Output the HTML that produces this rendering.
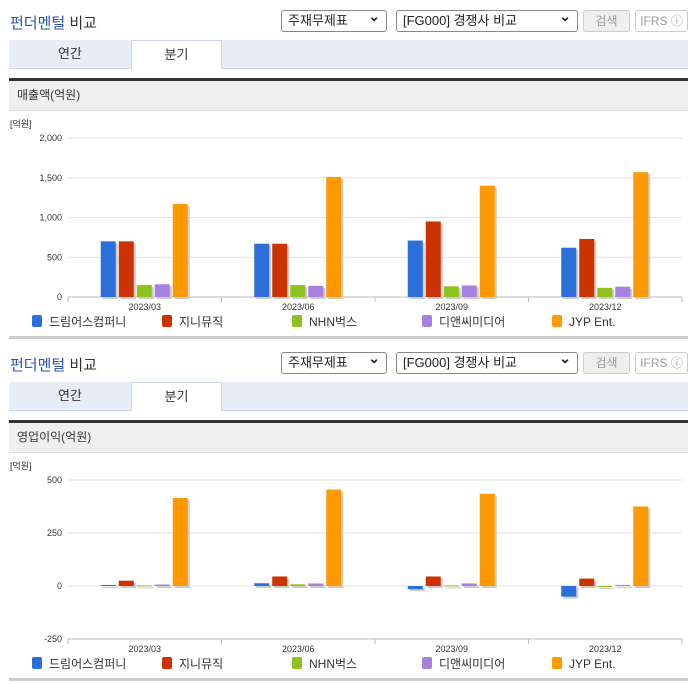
<!DOCTYPE html>
<html><head><meta charset="utf-8">
<style>
body{margin:0;width:696px;height:684px;background:#fff;font-family:"Liberation Sans","Noto Sans CJK KR",sans-serif;overflow:hidden;position:relative}
.sec{position:absolute;left:0;width:696px;height:342px}
.title{position:absolute;left:10px;top:12px;font-size:15px;font-weight:normal;color:#333}
.title b{color:#2a52b5;font-weight:normal}
.sel{position:absolute;top:10px;height:20px;border:1px solid #888;border-radius:3px;font-size:13px;line-height:20px;padding-left:6px;box-sizing:border-box;height:22px;color:#222;background:#fff}
.sel:after{content:"⌄";position:absolute;right:6px;top:-5px;font-size:14px;font-weight:bold}
.btn{position:absolute;top:10px;height:22px;border:1px solid #ccc;border-radius:3px;font-size:12px;line-height:20px;text-align:center;color:#999;box-sizing:border-box}
.tabs{position:absolute;left:9px;top:40px;width:679px;height:28px;background:#e6edf7;border-bottom:1px solid #cdd6e4}
.tab{position:absolute;top:0;height:28px;line-height:28px;text-align:center;font-size:13px;color:#333}
.bar2{position:absolute;left:9px;top:78px;width:679px;height:3px;background:#333}
.hdr{position:absolute;left:9px;top:81px;width:679px;height:29px;background:#efefef;border-bottom:1px solid #ddd;font-size:12px;line-height:29px;text-indent:8px;color:#333}
.bot{position:absolute;left:9px;top:336px;width:679px;height:3px;background:#ccc}
svg{position:absolute;left:0;top:110px}
</style></head><body>
<div class="sec" id="s1" style="top:0">
<div class="title"><b>펀더멘털</b> 비교</div>
<div class="sel" style="left:281px;width:106px">주재무제표</div>
<div class="sel" style="left:396px;width:182px">[FG000] 경쟁사 비교</div>
<div class="btn" style="left:583px;width:47px;background:#eee">검색</div>
<div class="btn" style="left:635px;width:53px">IFRS ⓘ</div>
<div class="tabs">
<div class="tab" style="left:0;width:122px">연간</div>
<div class="tab" style="left:122px;width:91px;background:#fff;height:29px;border:1px solid #cdd6e4;border-bottom:none;box-sizing:border-box">분기</div>
</div>
<div class="bar2"></div>
<div class="hdr">매출액(억원)</div>
<svg id="c1" width="696" height="230"></svg>
<div class="bot"></div>
</div>
<div class="sec" id="s2" style="top:342px">
<div class="title"><b>펀더멘털</b> 비교</div>
<div class="sel" style="left:281px;width:106px">주재무제표</div>
<div class="sel" style="left:396px;width:182px">[FG000] 경쟁사 비교</div>
<div class="btn" style="left:583px;width:47px;background:#eee">검색</div>
<div class="btn" style="left:635px;width:53px">IFRS ⓘ</div>
<div class="tabs">
<div class="tab" style="left:0;width:122px">연간</div>
<div class="tab" style="left:122px;width:91px;background:#fff;height:29px;border:1px solid #cdd6e4;border-bottom:none;box-sizing:border-box">분기</div>
</div>
<div class="bar2"></div>
<div class="hdr">영업이익(억원)</div>
<svg id="c2" width="696" height="230"></svg>
<div class="bot"></div>
</div>
<script>
const categories=["2023/03","2023/06","2023/09","2023/12"];
const seriesNames=["드림어스컴퍼니","지니뮤직","NHN벅스","디앤씨미디어","JYP Ent."];
const colors=["#2b6fd8","#cc3300","#8dc21f","#a97fe0","#ff9900"];
const revDream=[700,670,710,620];
const revGenie=[700,670,950,730];
const revBugs=[150,150,135,115];
const revDnc=[160,140,145,130];
const revJyp=[1170,1510,1400,1570];
const opDream=[5,13,-15,-50];
const opGenie=[25,45,45,35];
const opBugs=[3,8,3,0];
const opDnc=[7,12,12,5];
const opJyp=[415,455,435,375];
const revTicks=[0,500,1000,1500,2000];
const revTickLabels=["0","500","1,000","1,500","2,000"];
const opTicks=[-250,0,250,500];
const opTickLabels=["-250","0","250","500"];
const NS="http://www.w3.org/2000/svg";
function mk(svg,t,a){const e=document.createElementNS(NS,t);for(const k in a)e.setAttribute(k,a[k]);svg.appendChild(e);return e;}
function draw(id,series,ticks,labels,ymin,ymax,top,bottom){
 const svg=document.getElementById(id);
 const x0=68,x1=682,bw=(x1-x0)/categories.length;
 const y=v=>bottom-(v-ymin)/(ymax-ymin)*(bottom-top);
 let t=mk(svg,'text',{x:10,y:top-11,'font-size':9,fill:'#333'});t.textContent='[억원]';
 
 ticks.forEach((v,i)=>{
  const l=mk(svg,'line',{x1:x0,x2:x1,y1:y(v),y2:y(v),stroke:'#e2e2e2'});
  
  const tx=mk(svg,'text',{x:62,y:y(v)+3,'font-size':9,fill:'#333','text-anchor':'end'});tx.textContent=labels[i];
  
 });
 const ax=mk(svg,'line',{x1:x0,x2:x1,y1:bottom,y2:bottom,stroke:'#bbb'});
 
 for(let c=0;c<=categories.length;c++){const tk=mk(svg,'line',{x1:x0+c*bw,x2:x0+c*bw,y1:bottom,y2:bottom+5,stroke:'#bbb'});
  }
 categories.forEach((cat,c)=>{
  const cx=x0+bw*(c+0.5);
  const tx=mk(svg,'text',{x:cx,y:bottom+13,'font-size':9,fill:'#333','text-anchor':'middle'});tx.textContent=cat;
  
  series.forEach((s,i)=>{
   const bx=cx-44+i*18,v=s[c],y0=y(0),yv=y(v);
   const yt=Math.min(y0,yv),h=Math.max(1,Math.abs(y0-yv));
   const sh=mk(svg,'rect',{x:bx+2,y:yt+2,width:15,height:h,fill:'#ccc'});
   
   const r=mk(svg,'rect',{x:bx,y:yt,width:15,height:h,fill:colors[i]});
   
  });
 });
 const lx=[32,162,292,422,552];
 seriesNames.forEach((n,i)=>{
  const r=mk(svg,'rect',{x:lx[i],y:bottom+18,width:10,height:12,rx:2,fill:colors[i]});
  
  const tx=mk(svg,'text',{x:lx[i]+17,y:bottom+29,'font-size':12,fill:'#333'});tx.textContent=n;
  
 });
}
draw('c1',[revDream,revGenie,revBugs,revDnc,revJyp],revTicks,revTickLabels,0,2000,28,187);
draw('c2',[opDream,opGenie,opBugs,opDnc,opJyp],opTicks,opTickLabels,-250,500,28,187);
</script>
</body></html>
